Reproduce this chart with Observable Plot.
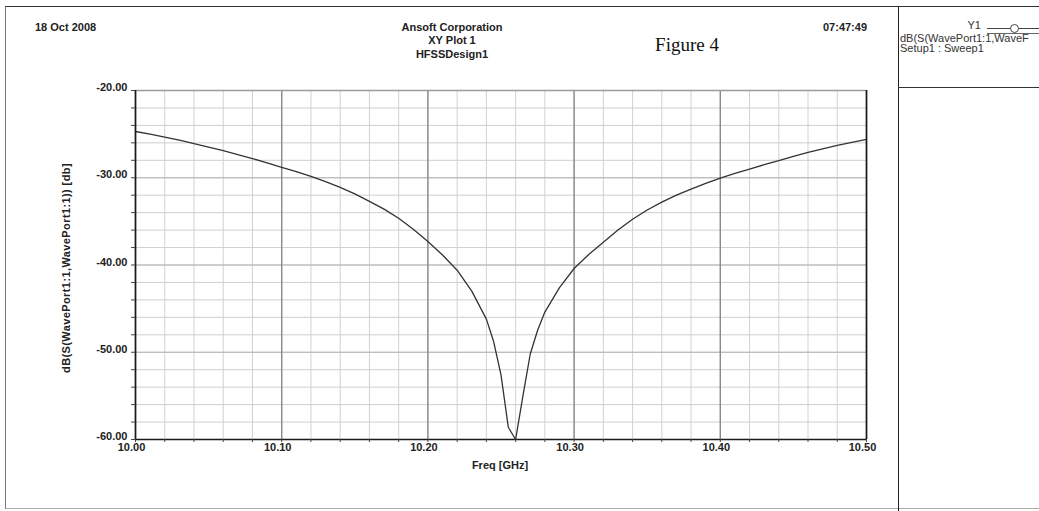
<!DOCTYPE html>
<html>
<head>
<meta charset="utf-8">
<script src="https://cdn.jsdelivr.net/npm/d3@7"></script>
<script src="https://cdn.jsdelivr.net/npm/@observablehq/plot@0.6"></script>
<style>
  html, body { margin: 0; padding: 0; background: #fff; }
  #wrap { position: relative; width: 1039px; height: 511px; overflow: hidden; font-family: "Liberation Sans", Arial, sans-serif; color: #222; }
  #wrap svg { position: absolute; left: 0; top: 0; }
  .t { position: absolute; white-space: nowrap; }
  .b { font-weight: bold; }
</style>
</head>
<body>
<div id="wrap"></div>
<script>
// ---- data ----
const freq = [10.00, 10.01, 10.02, 10.03, 10.04, 10.05, 10.06, 10.07, 10.08, 10.09,
              10.10, 10.11, 10.12, 10.13, 10.14, 10.15, 10.16, 10.17, 10.18, 10.19,
              10.20, 10.21, 10.22, 10.23, 10.24, 10.245, 10.25, 10.255, 10.26, 10.265,
              10.27, 10.275, 10.28, 10.29, 10.30, 10.31, 10.32, 10.33, 10.34, 10.35,
              10.36, 10.37, 10.38, 10.39, 10.40, 10.41, 10.42, 10.43, 10.44, 10.45,
              10.46, 10.47, 10.48, 10.49, 10.50];
const s11dB = [-24.7, -25.0, -25.35, -25.7, -26.1, -26.5, -26.9, -27.35, -27.8, -28.3,
               -28.8, -29.3, -29.85, -30.45, -31.1, -31.85, -32.7, -33.6, -34.65, -35.9,
               -37.3, -38.85, -40.6, -43.0, -46.2, -48.8, -52.6, -58.6, -60.0, -55.0,
               -50.2, -47.5, -45.4, -42.6, -40.4, -38.8, -37.4, -36.0, -34.75, -33.7,
               -32.8, -32.0, -31.3, -30.65, -30.05, -29.5, -29.0, -28.5, -28.05, -27.55,
               -27.1, -26.7, -26.3, -25.95, -25.6];
const xTicks = [10.00, 10.10, 10.20, 10.30, 10.40, 10.50];
const yTicks = [-20, -30, -40, -50, -60];
const headerLeft = "18 Oct 2008";
const headerTitle = ["Ansoft Corporation", "XY Plot 1", "HFSSDesign1"];
const headerTime = "07:47:49";
const figureLabel = "Figure 4";
const xTitle = "Freq [GHz]";
const yTitle = "dB(S(WavePort1:1,WavePort1:1)) [db]";
const legendName = "Y1";
const legendLines = ["dB(S(WavePort1:1,WaveF", "Setup1 : Sweep1"];

const data = freq.map((f, i) => ({f, v: s11dB[i]}));
const xMinor = d3.range(0, 26).map(i => 10 + i * 0.02);
const yMinor = d3.range(0, 21).map(i => -60 + i * 2);
const blank = () => "";

const chart = Plot.plot({
  width: 1039,
  height: 511,
  marginLeft: 135,
  marginRight: 173,
  marginTop: 90,
  marginBottom: 72,
  style: {fontFamily: "'Liberation Sans', Arial, sans-serif", fontSize: "11px", fontWeight: "bold", color: "#222", background: "transparent"},
  x: {domain: [10, 10.5]},
  y: {domain: [-60, -20]},
  marks: [
    Plot.ruleX(xMinor, {stroke: "#d2d2d2", strokeWidth: 1}),
    Plot.ruleY(yMinor, {stroke: "#cfcfcf", strokeWidth: 1}),
    Plot.ruleY(yTicks, {stroke: "#b4b4b4", strokeWidth: 1.2}),
    Plot.ruleX(xTicks, {stroke: "#8a8a8a", strokeWidth: 1.4}),
    Plot.ruleY([-20], {stroke: "#9a9a9a", strokeWidth: 1.4}),
    Plot.line(data, {x: "f", y: "v", stroke: "#333", strokeWidth: 1.3}),
    Plot.ruleX([10], {stroke: "#1a1a1a", strokeWidth: 1.6}),
    Plot.ruleX([10.5], {stroke: "#1a1a1a", strokeWidth: 1.6}),
    Plot.ruleY([-60], {stroke: "#1a1a1a", strokeWidth: 1.6}),
    Plot.axisX(xMinor, {tickSize: 3, tickFormat: blank, stroke: "#444", label: null}),
    Plot.axisY(yMinor, {tickSize: 4, tickFormat: blank, stroke: "#444", label: null}),
    Plot.axisX(xTicks, {tickSize: 0, tickPadding: 4, dx: -4, tickFormat: d => d.toFixed(2), label: null, fill: "#222"}),
    Plot.axisY(yTicks, {tickSize: 0, tickPadding: 8, dy: -3, tickFormat: d => d.toFixed(2), label: null, fill: "#222"})
  ]
});

const wrap = document.getElementById("wrap");

function box(css) {
  const d = document.createElement("div");
  d.style.position = "absolute";
  d.style.cssText += css;
  wrap.appendChild(d);
  return d;
}
function text(str, cx, cy, size, opts = {}) {
  const d = document.createElement("div");
  d.className = "t" + (opts.bold ? " b" : "");
  d.textContent = str;
  d.style.fontSize = size + "px";
  d.style.lineHeight = size + "px";
  d.style.top = (cy - size / 2) + "px";
  d.style.left = cx + "px";
  if (opts.family) d.style.fontFamily = opts.family;
  if (opts.color) d.style.color = opts.color;
  if (opts.anchor === "middle") d.style.transform = "translateX(-50%)";
  else if (opts.anchor === "end") d.style.transform = "translateX(-100%)";
  wrap.appendChild(d);
  return d;
}

wrap.appendChild(chart);

// page frame and legend panel
box("left:5px;top:6px;width:1200px;height:501px;border-top:1.5px solid #333;border-left:1px solid #777;border-bottom:1.5px solid #aaa;");
box("left:898px;top:6px;width:0;height:520px;border-left:1.5px solid #222;");
box("left:898px;top:87px;width:200px;height:0;border-top:1.5px solid #333;");

// header
text(headerLeft, 35, 27, 11, {bold: true});
headerTitle.forEach((s, i) => text(s, 452, 27 + i * 13.5, 11, {bold: true, anchor: "middle"}));
text(headerTime, 845, 27, 11, {bold: true, anchor: "middle"});
text(figureLabel, 687, 44, 19, {family: "'Liberation Serif', 'Times New Roman', serif", anchor: "middle", color: "#111"});

// axis titles
text(xTitle, 500, 465, 11, {bold: true, anchor: "middle"});
const yt = text(yTitle, 0, 0, 11, {bold: true});
yt.style.left = "66px"; yt.style.top = "268px";
yt.style.transform = "translate(-50%,-50%) rotate(-90deg)";
yt.style.letterSpacing = "0.4px";

// legend
text(legendName, 981, 25, 11, {anchor: "end", color: "#333"});
box("left:987px;top:28px;width:60px;height:0;border-top:1px solid #444;");
box("left:1010px;top:24px;width:7px;height:7px;border:1px solid #444;border-radius:50%;background:#fff;");
box("left:987px;top:33px;width:60px;height:0;border-top:1px solid #666;");
legendLines.forEach((s, i) => text(s, 900, 38 + i * 10.5, 11, {color: "#333"}));
</script>
</body>
</html>
